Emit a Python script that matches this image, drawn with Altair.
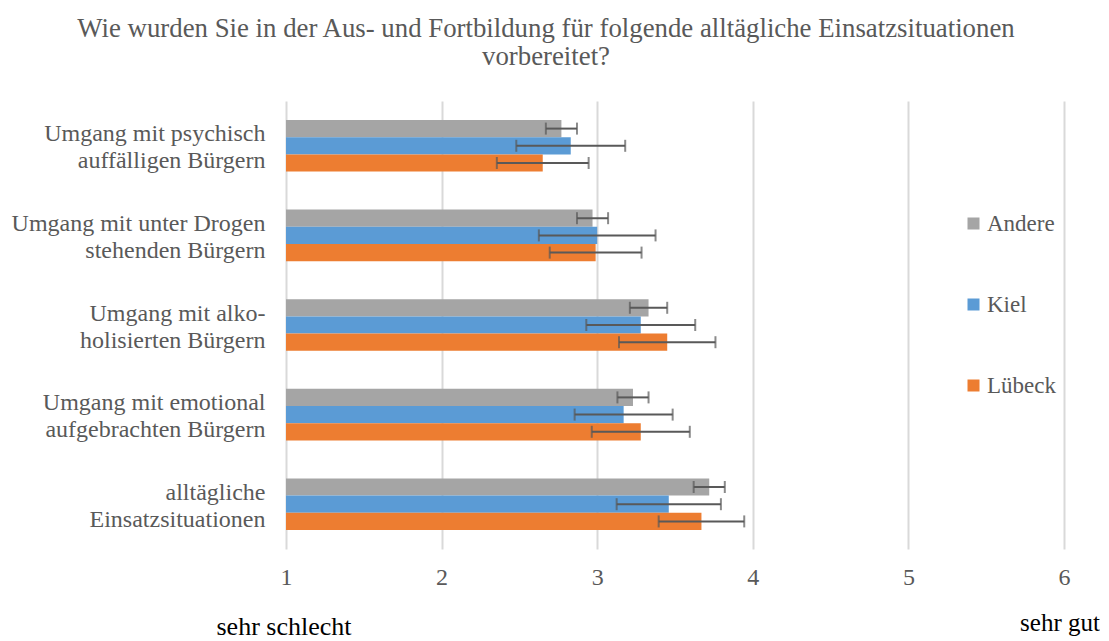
import altair as alt
import pandas as pd

categories = [
    "Umgang mit psychisch|auffälligen Bürgern",
    "Umgang mit unter Drogen|stehenden Bürgern",
    "Umgang mit alko-|holisierten Bürgern",
    "Umgang mit emotional|aufgebrachten Bürgern",
    "alltägliche|Einsatzsituationen",
]
groups = ["Andere", "Kiel", "Lübeck"]
colors = ["#A5A5A5", "#5B9BD5", "#ED7D31"]

andere = [2.77, 2.97, 3.33, 3.23, 3.72]
andere_err = [0.10, 0.10, 0.12, 0.10, 0.10]
kiel = [2.83, 3.00, 3.28, 3.17, 3.46]
kiel_err = [0.35, 0.375, 0.35, 0.315, 0.335]
luebeck = [2.65, 2.99, 3.45, 3.28, 3.67]
luebeck_err = [0.295, 0.295, 0.31, 0.315, 0.275]

x_ticks = [1, 2, 3, 4, 5, 6]
title_lines = [
    "Wie wurden Sie in der Aus- und Fortbildung für folgende alltägliche Einsatzsituationen",
    "vorbereitet?",
]

rows = []
for g, vals, errs in zip(groups, [andere, kiel, luebeck], [andere_err, kiel_err, luebeck_err]):
    for c, v, e in zip(categories, vals, errs):
        rows.append({"Kategorie": c, "Gruppe": g, "Wert": v, "Fehler": e})
df = pd.DataFrame(rows)

FONT = "Liberation Serif"
GRAY = "#595959"

xscale = alt.Scale(domain=[1, 6], nice=False, zero=False)

base = alt.Chart(df).encode(
    y=alt.Y(
        "Kategorie:N",
        sort=categories,
        title=None,
        scale=alt.Scale(paddingInner=0.424, paddingOuter=0.212),
        axis=alt.Axis(
            labelExpr="split(datum.label, '|')",
            labelFont=FONT,
            labelFontSize=24,
            labelColor=GRAY,
            labelAlign="right",
            labelBaseline="middle",
            labelLineHeight=27,
            labelOffset=-11.5,
            labelPadding=21,
            labelLimit=400,
            ticks=False,
            tickSize=0,
            domain=False,
            grid=False,
        ),
    ),
    yOffset=alt.YOffset("Gruppe:N", sort=groups, scale=alt.Scale(paddingInner=0, paddingOuter=0)),
)

bars = base.mark_bar().encode(
    x=alt.X(
        "Wert:Q",
        scale=xscale,
        title=None,
        axis=alt.Axis(
            values=x_ticks,
            format="d",
            grid=True,
            gridColor="#D9D9D9",
            gridWidth=2,
            domain=False,
            ticks=False,
            tickSize=0,
            labelFlush=False,
            labelFont=FONT,
            labelFontSize=24,
            labelColor=GRAY,
            labelPadding=16,
            labelBaseline="top",
        ),
    ),
    x2=alt.datum(1),
    color=alt.Color(
        "Gruppe:N",
        sort=groups,
        scale=alt.Scale(domain=groups, range=colors),
        legend=alt.Legend(
            title=None,
            orient="none",
            legendX=676,
            legendY=111,
            symbolType="square",
            symbolSize=144,
            symbolStrokeWidth=0,
            labelFont=FONT,
            labelFontSize=23,
            labelColor=GRAY,
            labelOffset=2,
            rowPadding=57,
        ),
    ),
)

err = base.transform_calculate(
    lo="datum.Wert - datum.Fehler", hi="datum.Wert + datum.Fehler"
)

err_line = err.mark_rule(color=GRAY, strokeWidth=2).encode(
    x=alt.X("lo:Q", scale=xscale), x2="hi:Q"
)

caps = err.transform_fold(["lo", "hi"], as_=["k", "pos"]).mark_tick(
    color=GRAY, size=12, thickness=2
).encode(x=alt.X("pos:Q", scale=xscale))

left_txt = alt.Chart(pd.DataFrame({"t": ["sehr schlecht"]})).mark_text(
    font=FONT, fontSize=26, color="#000000", align="center", baseline="alphabetic"
).encode(text="t:N", x=alt.value(-2), y=alt.value(534))
right_txt = alt.Chart(pd.DataFrame({"t": ["sehr gut"]})).mark_text(
    font=FONT, fontSize=25, color="#000000", align="center", baseline="alphabetic"
).encode(text="t:N", x=alt.value(774), y=alt.value(530))

chart = alt.layer(bars, err_line, caps, left_txt, right_txt).properties(
    width=778,
    height=448,
    autosize=alt.AutoSizeParams(type="none"),
    padding={"left": 278, "top": 93, "right": 36, "bottom": 98},
    title=alt.TitleParams(
        text=title_lines,
        anchor="middle",
        dx=-129,
        offset=30,
        font=FONT,
        fontSize=26.8,
        fontWeight="normal",
        color=GRAY,
        lineHeight=28,
    ),
).configure(
    font=FONT
).configure_view(
    stroke=None
).configure_title(
    font=FONT
).configure_axis(
    labelFont=FONT
).configure_legend(
    labelFont=FONT
)

chart.save("out.html", embed_options={"renderer": "svg", "actions": False})
